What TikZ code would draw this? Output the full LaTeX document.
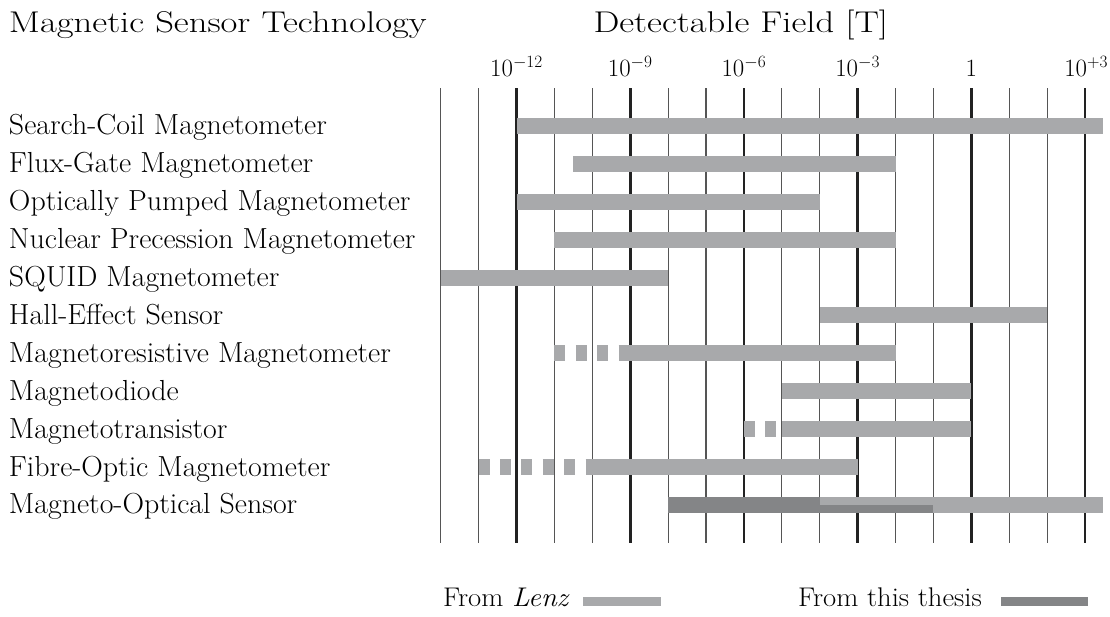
\documentclass[tikz,border=0pt]{standalone}
\usepackage{xcolor}
\usepackage{tikz}
\usetikzlibrary{positioning}
\tikzset{rowlabel/.style = {anchor=base west, inner sep=0pt, outer sep=0pt, font=\fontsize{29}{34}\selectfont, xscale=1.03}}
\tikzset{headlabel/.style = {anchor=base west, inner sep=0pt, outer sep=0pt, font=\fontsize{30}{36}\selectfont, xscale=1.22}}
\tikzset{ticklabel/.style = {anchor=base, inner sep=0pt, outer sep=0pt, font=\fontsize{27}{32}\selectfont}}
\tikzset{keylabel/.style = {anchor=base west, inner sep=0pt, outer sep=0pt, font=\fontsize{27}{32}\selectfont, xscale=1.06}}
\tikzset{minorline/.style = {draw=minorColor, line width=1.2}}
\tikzset{majorline/.style = {draw=majorColor, line width=2.6}}
\tikzset{lenzbar/.style = {fill=lenzColor}}
\tikzset{thesisbar/.style = {fill=thesisColor}}
\tikzset{lenzdash/.style = {draw=lenzColor, line width=16, dash pattern=on 11 off 10.4}}
\tikzset{keybox/.style = {anchor=south west, inner sep=0pt, outer sep=0pt, minimum height=9}}

\begin{document}
\begin{tikzpicture}[x=1pt,y=1pt]
\definecolor{fillColor}{RGB}{255,255,255}
\definecolor{minorColor}{RGB}{85,85,85}
\definecolor{majorColor}{RGB}{34,34,34}
\definecolor{lenzColor}{RGB}{168,169,171}
\definecolor{thesisColor}{RGB}{132,133,135}
\path[use as bounding box,fill=fillColor] (0,0) rectangle (1110,617);

% decade grid, 10^-14 ... 10^3
\begin{scope}
\path[minorline] (440.70, 74) -- (440.70,529);
\path[minorline] (478.60, 74) -- (478.60,529);
\path[majorline] (516.50, 74) -- (516.50,529);
\path[minorline] (554.40, 74) -- (554.40,529);
\path[minorline] (592.30, 74) -- (592.30,529);
\path[majorline] (630.20, 74) -- (630.20,529);
\path[minorline] (668.10, 74) -- (668.10,529);
\path[minorline] (706.00, 74) -- (706.00,529);
\path[majorline] (743.90, 74) -- (743.90,529);
\path[minorline] (781.80, 74) -- (781.80,529);
\path[minorline] (819.70, 74) -- (819.70,529);
\path[majorline] (857.60, 74) -- (857.60,529);
\path[minorline] (895.50, 74) -- (895.50,529);
\path[minorline] (933.40, 74) -- (933.40,529);
\path[majorline] (971.30, 74) -- (971.30,529);
\path[minorline] (1009.20, 74) -- (1009.20,529);
\path[minorline] (1047.10, 74) -- (1047.10,529);
\path[majorline] (1085.00, 74) -- (1085.00,529);
\end{scope}

% ranges
\begin{scope}
\path[lenzbar] ( 516.50,483.0) rectangle (1103.19,499.0);
\path[lenzbar] ( 573.35,445.1) rectangle ( 895.50,461.1);
\path[lenzbar] ( 516.50,407.2) rectangle ( 819.70,423.2);
\path[lenzbar] ( 554.40,369.3) rectangle ( 895.50,385.3);
\path[lenzbar] ( 440.70,331.4) rectangle ( 668.10,347.4);
\path[lenzbar] ( 819.70,293.5) rectangle (1047.10,309.5);
\path[lenzdash] ( 554.40,263.6) -- ( 630.20,263.6);
\path[lenzbar] ( 630.20,255.6) rectangle ( 895.50,271.6);
\path[lenzbar] ( 781.80,217.7) rectangle ( 971.30,233.7);
\path[lenzdash] ( 743.90,187.8) -- ( 781.80,187.8);
\path[lenzbar] ( 781.80,179.8) rectangle ( 971.30,195.8);
\path[lenzdash] ( 478.60,149.9) -- ( 592.30,149.9);
\path[lenzbar] ( 592.30,141.9) rectangle ( 857.60,157.9);
\path[lenzbar] ( 819.70,104.0) rectangle (1103.19,120.0);
\path[thesisbar] ( 668.10,104.0) rectangle ( 819.70,120.0);
\path[thesisbar] ( 819.70,104.0) rectangle ( 933.40,112.0);
\end{scope}

% headings and axis
\begin{scope}
\node[headlabel] (tech) at (  9.00,584.00) {Magnetic Sensor Technology};
\node[headlabel] (field) at (593.50,584.00) {Detectable Field [T]};
\node[ticklabel] (tm12) at ( 516.50,540.00) {$10^{-12}$};
\node[ticklabel] (tm9) at ( 630.20,540.00) {$10^{-9}$};
\node[ticklabel] (tm6) at ( 743.90,540.00) {$10^{-6}$};
\node[ticklabel] (tm3) at ( 857.60,540.00) {$10^{-3}$};
\node[ticklabel] (t0) at ( 971.30,540.00) {$1$};
\node[ticklabel,anchor=base east] (tp3) at (1108.00,540.00) {$10^{+3}$};
\end{scope}

% sensor names
\begin{scope}
\node[rowlabel] (coil) at (9.00,482.0) {Search-Coil Magnetometer};
\node[rowlabel] (flux) at (9.00,444.1) {Flux-Gate Magnetometer};
\node[rowlabel] (pump) at (9.00,406.2) {Optically Pumped Magnetometer};
\node[rowlabel] (nucl) at (9.00,368.3) {Nuclear Precession Magnetometer};
\node[rowlabel] (squid) at (9.00,330.4) {SQUID Magnetometer};
\node[rowlabel] (hall) at (9.00,292.5) {Hall-Effect Sensor};
\node[rowlabel] (mres) at (9.00,254.6) {Magnetoresistive Magnetometer};
\node[rowlabel] (mdio) at (9.00,216.7) {Magnetodiode};
\node[rowlabel] (mtra) at (9.00,178.8) {Magnetotransistor};
\node[rowlabel] (fibre) at (9.00,140.9) {Fibre-Optic Magnetometer};
\node[rowlabel] (mopt) at (9.00,103.0) {Magneto-Optical Sensor};
\end{scope}

% legend
\begin{scope}
\node[keylabel] (lenzlbl) at (443.00,10.00) {From \textit{Lenz}};
\node[keybox,lenzbar,minimum width=78] (lenzkey) at (583.00,11.00) {};
\node[keylabel] (thesislbl) at (798.00,10.00) {From this thesis};
\node[keybox,thesisbar,minimum width=87] (thesiskey) at (1001.00,11.00) {};
\end{scope}
\end{tikzpicture}
\end{document}
